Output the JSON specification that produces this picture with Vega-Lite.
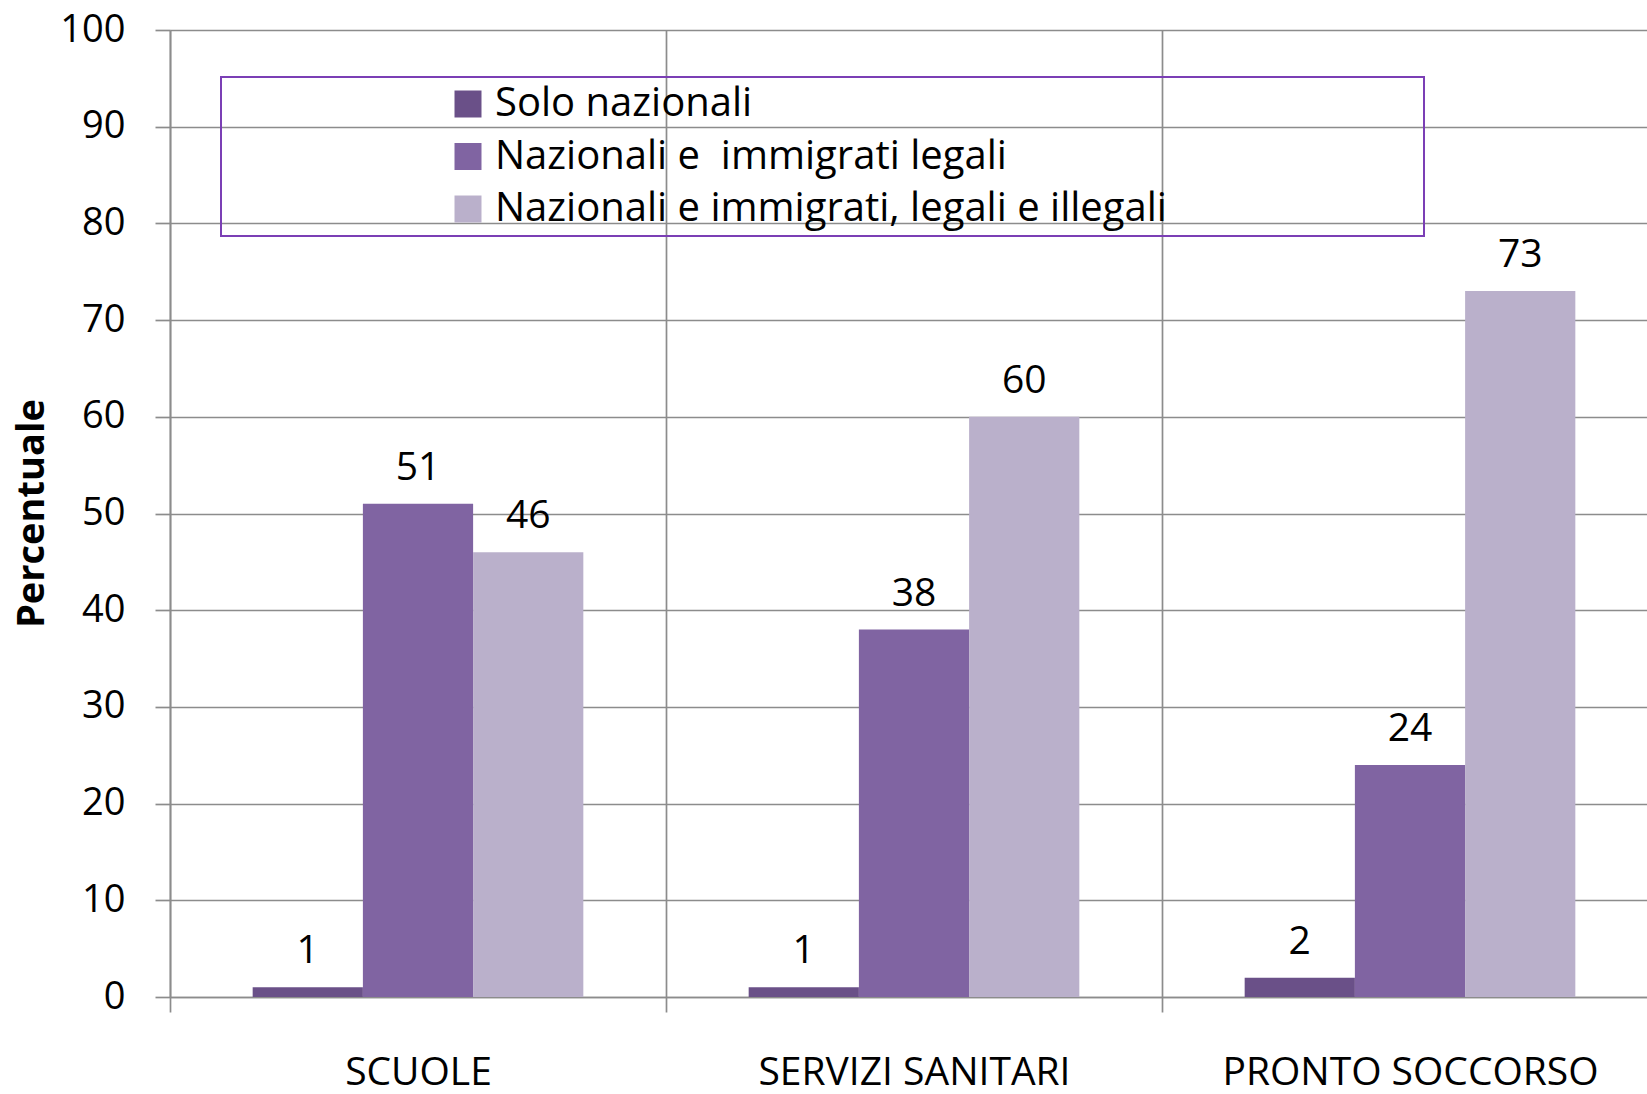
{
  "$schema": "https://vega.github.io/schema/vega-lite/v6.json",
  "width": 1488,
  "height": 967,
  "autosize": {"type": "none"},
  "padding": {"left": 170, "top": 30, "right": -11, "bottom": 97},
  "background": "white",
  "config": {
    "font": "Open Sans",
    "view": {"stroke": null},
    "axis": {
      "gridColor": "#8C8C8C",
      "gridWidth": 1.7,
      "gridOpacity": 1,
      "domainColor": "#8C8C8C",
      "domainWidth": 1.7,
      "tickColor": "#8C8C8C",
      "tickWidth": 1.7,
      "tickSize": 15,
      "labelColor": "black",
      "labelFont": "Open Sans",
      "labelFontSize": 38,
      "labelLimit": 2000,
      "titleColor": "black",
      "titleFont": "Open Sans"
    },
    "legend": {
      "strokeColor": "#7B3FB5",
      "strokeWidth": 2,
      "padding": 7,
      "orient": "none",
      "legendX": 51,
      "legendY": 47,
      "titleOrient": "left",
      "titleFontSize": 1,
      "titlePadding": 220,
      "symbolType": "square",
      "symbolSize": 729,
      "symbolStrokeWidth": 0,
      "symbolOpacity": 1,
      "labelFont": "Open Sans",
      "labelFontSize": 40,
      "labelColor": "black",
      "labelOffset": 7,
      "labelLimit": 3000,
      "rowPadding": 12.5
    }
  },
  "data": {
    "values": [
      {"categoria": "SCUOLE", "serie": "Solo nazionali", "valore": 1},
      {"categoria": "SCUOLE", "serie": "Nazionali e  immigrati legali", "valore": 51},
      {"categoria": "SCUOLE", "serie": "Nazionali e immigrati, legali e illegali", "valore": 46},
      {"categoria": "SERVIZI SANITARI", "serie": "Solo nazionali", "valore": 1},
      {"categoria": "SERVIZI SANITARI", "serie": "Nazionali e  immigrati legali", "valore": 38},
      {"categoria": "SERVIZI SANITARI", "serie": "Nazionali e immigrati, legali e illegali", "valore": 60},
      {"categoria": "PRONTO SOCCORSO", "serie": "Solo nazionali", "valore": 2},
      {"categoria": "PRONTO SOCCORSO", "serie": "Nazionali e  immigrati legali", "valore": 24},
      {"categoria": "PRONTO SOCCORSO", "serie": "Nazionali e immigrati, legali e illegali", "valore": 73}
    ]
  },
  "encoding": {
    "x": {
      "field": "categoria",
      "type": "nominal",
      "sort": ["SCUOLE", "SERVIZI SANITARI", "PRONTO SOCCORSO"],
      "scale": {"paddingInner": 0, "paddingOuter": 0},
      "axis": {
        "title": null,
        "tickBand": "extent",
        "grid": true,
        "ticks": true,
        "domain": true,
        "labelAngle": 0,
        "labelBaseline": "alphabetic",
        "labelPadding": 72,
        "labelFontSize": 39,
        "labelLimit": 2000
      }
    },
    "xOffset": {
      "field": "serie",
      "type": "nominal",
      "sort": ["Solo nazionali", "Nazionali e  immigrati legali", "Nazionali e immigrati, legali e illegali"],
      "scale": {"paddingInner": 0, "paddingOuter": 0.75}
    },
    "y": {
      "field": "valore",
      "type": "quantitative",
      "scale": {"domain": [0, 100], "nice": false},
      "axis": {
        "values": [0, 10, 20, 30, 40, 50, 60, 70, 80, 90, 100],
        "grid": true,
        "labelPadding": 30,
        "title": "Percentuale",
        "titleFontSize": 38,
        "titleFontWeight": "bold",
        "titleAngle": -90,
        "titleBaseline": "alphabetic",
        "titleAlign": "center",
        "titleX": -127,
        "titleY": 483
      }
    }
  },
  "layer": [
    {
      "mark": {"type": "bar"},
      "encoding": {
        "color": {
          "field": "serie",
          "type": "nominal",
          "sort": ["Solo nazionali", "Nazionali e  immigrati legali", "Nazionali e immigrati, legali e illegali"],
          "scale": {
            "domain": ["Solo nazionali", "Nazionali e  immigrati legali", "Nazionali e immigrati, legali e illegali"],
            "range": ["#6A5088", "#8064A2", "#BAB0CB"]
          },
          "legend": {
            "title": "\u00a0",
            "labelExpr": "replace(datum.label, '  ', '\u00a0 ') + '\u00a0\u00a0\u00a0\u00a0\u00a0\u00a0\u00a0\u00a0\u00a0\u00a0\u00a0\u00a0\u00a0\u00a0\u00a0\u00a0\u00a0\u00a0\u00a0\u00a0\u00a0\u00a0\u00a0\u00a0\u2060'"
          }
        }
      }
    },
    {
      "mark": {"type": "text", "dy": -24, "baseline": "alphabetic", "fontSize": 39, "color": "black", "font": "Open Sans"},
      "encoding": {
        "text": {"field": "valore", "type": "quantitative"}
      }
    }
  ]
}
